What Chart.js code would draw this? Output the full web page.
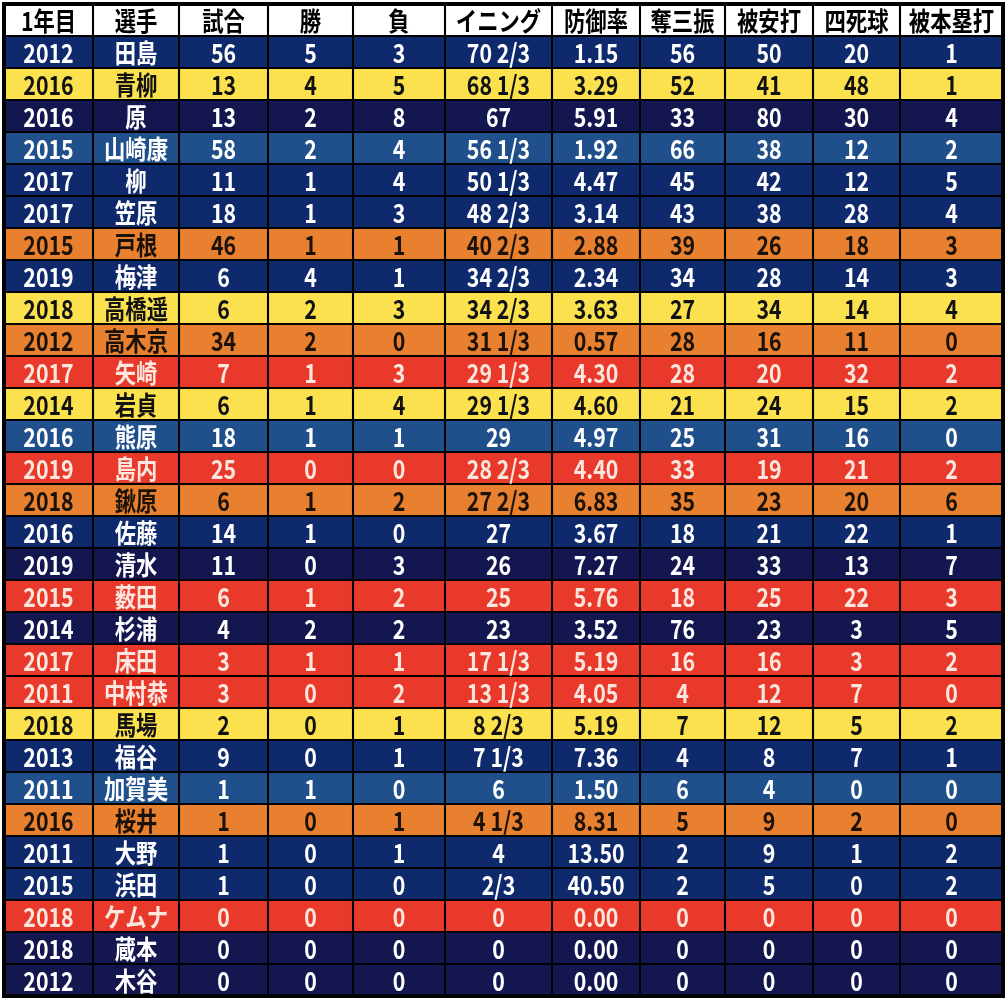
<!DOCTYPE html>
<html>
<head>
<meta charset="utf-8">
<script src="https://cdn.jsdelivr.net/npm/chart.js@4"></script>
<style>
  body { margin: 0; background: #fff; }
  canvas { display: block; }
</style>
</head>
<body>
<canvas id="myChart" width="1008" height="999"></canvas>
<script>
// table data, one array per column
const colLabels = ['1年目', '選手', '試合', '勝', '負', 'イニング', '防御率', '奪三振', '被安打', '四死球', '被本塁打'];
const years = [2012, 2016, 2016, 2015, 2017, 2017, 2015, 2019, 2018, 2012, 2017, 2014, 2016, 2019, 2018, 2016, 2019, 2015, 2014, 2017, 2011, 2018, 2013, 2011, 2016, 2011, 2015, 2018, 2018, 2012];
const players = ['田島', '青柳', '原', '山崎康', '柳', '笠原', '戸根', '梅津', '高橋遥', '高木京', '矢崎', '岩貞', '熊原', '島内', '鍬原', '佐藤', '清水', '薮田', '杉浦', '床田', '中村恭', '馬場', '福谷', '加賀美', '桜井', '大野', '浜田', 'ケムナ', '蔵本', '木谷'];
const games = [56, 13, 13, 58, 11, 18, 46, 6, 6, 34, 7, 6, 18, 25, 6, 14, 11, 6, 4, 3, 3, 2, 9, 1, 1, 1, 1, 0, 0, 0];
const wins = [5, 4, 2, 2, 1, 1, 1, 4, 2, 2, 1, 1, 1, 0, 1, 1, 0, 1, 2, 1, 0, 0, 0, 1, 0, 0, 0, 0, 0, 0];
const losses = [3, 5, 8, 4, 4, 3, 1, 1, 3, 0, 3, 4, 1, 0, 2, 0, 3, 2, 2, 1, 2, 1, 1, 0, 1, 1, 0, 0, 0, 0];
const innings = ['70 2/3', '68 1/3', '67', '56 1/3', '50 1/3', '48 2/3', '40 2/3', '34 2/3', '34 2/3', '31 1/3', '29 1/3', '29 1/3', '29', '28 2/3', '27 2/3', '27', '26', '25', '23', '17 1/3', '13 1/3', '8 2/3', '7 1/3', '6', '4 1/3', '4', '2/3', '0', '0', '0'];
const era = ['1.15', '3.29', '5.91', '1.92', '4.47', '3.14', '2.88', '2.34', '3.63', '0.57', '4.30', '4.60', '4.97', '4.40', '6.83', '3.67', '7.27', '5.76', '3.52', '5.19', '4.05', '5.19', '7.36', '1.50', '8.31', '13.50', '40.50', '0.00', '0.00', '0.00'];
const strikeouts = [56, 52, 33, 66, 45, 43, 39, 34, 27, 28, 28, 21, 25, 33, 35, 18, 24, 18, 76, 16, 4, 7, 4, 6, 5, 2, 2, 0, 0, 0];
const hits = [50, 41, 80, 38, 42, 38, 26, 28, 34, 16, 20, 24, 31, 19, 23, 21, 33, 25, 23, 16, 12, 12, 8, 4, 9, 9, 5, 0, 0, 0];
const walks = [20, 48, 30, 12, 12, 28, 18, 14, 14, 11, 32, 15, 16, 21, 20, 22, 13, 22, 3, 3, 7, 5, 7, 0, 2, 1, 0, 0, 0, 0];
const homers = [1, 1, 4, 2, 5, 4, 3, 3, 4, 0, 2, 2, 0, 2, 6, 1, 7, 3, 5, 2, 0, 2, 1, 0, 0, 2, 2, 0, 0, 0];
// row group (colour class) of each player
const rowGroups = ['N', 'Y', 'D', 'B', 'N', 'N', 'O', 'N', 'Y', 'O', 'R', 'Y', 'B', 'R', 'O', 'N', 'D', 'R', 'D', 'R', 'R', 'Y', 'N', 'B', 'O', 'N', 'N', 'R', 'D', 'D'];

const columns = [years, players, games, wins, losses, innings, era, strikeouts, hits, walks, homers];

// layout / styles
const colWidths = [89, 86, 89, 85, 92, 107, 88, 85, 88, 87, 103];
const fillColors = { H: '#ffffff', N: '#0f2a6c', D: '#141650', B: '#20508c', Y: '#fbe14e', O: '#e8802f', R: '#e8392a' };
const textColors = { H: '#000000', N: '#ffffff', D: '#ffffff', B: '#ffffff', Y: '#111111', O: '#1a1208', R: '#fde6dd' };

const groups = ['H'].concat(rowGroups);
const rowLabels = ['header'].concat(players);

// column edges in x units
const edges = [0];
colWidths.forEach(w => edges.push(edges[edges.length - 1] + w));

const datasets = colLabels.map((label, c) => ({
    label: label,
    data: rowLabels.map(() => [edges[c], edges[c + 1]]),
    backgroundColor: groups.map(g => fillColors[g]),
    borderColor: '#000000',
    borderWidth: 1.4,
    borderSkipped: false,
    grouped: false,
    barPercentage: 1,
    categoryPercentage: 1
}));

// draw the cell texts in the middle of each bar
const cellText = {
    id: 'cellText',
    afterDatasetsDraw(chart) {
        const ctx = chart.ctx;
        ctx.save();
        ctx.font = '600 26px "Noto Sans CJK JP"';
        ctx.textAlign = 'center';
        ctx.textBaseline = 'middle';
        chart.data.datasets.forEach((ds, c) => {
            chart.getDatasetMeta(c).data.forEach((bar, r) => {
                const text = r === 0 ? colLabels[c] : String(columns[c][r - 1]);
                const x = (bar.x + bar.base) / 2;
                ctx.fillStyle = textColors[groups[r]];
                ctx.save();
                ctx.translate(x, bar.y + 1);
                ctx.scale(0.82, 1);
                ctx.fillText(text, 0, 0);
                ctx.restore();
            });
        });
        ctx.restore();
    },
    afterDraw(chart) {
        const a = chart.chartArea;
        const ctx = chart.ctx;
        ctx.save();
        ctx.strokeStyle = '#000';
        ctx.lineWidth = 4;
        ctx.strokeRect(a.left, a.top, a.right - a.left, a.bottom - a.top);
        ctx.restore();
    }
};

new Chart(document.getElementById('myChart'), {
    type: 'bar',
    data: { labels: rowLabels, datasets: datasets },
    options: {
        indexAxis: 'y',
        responsive: false,
        animation: false,
        layout: { padding: { left: 4, right: 5, top: 4, bottom: 3 } },
        scales: {
            x: { type: 'linear', min: 0, max: edges[edges.length - 1], display: false },
            y: { display: false }
        },
        plugins: {
            legend: { display: false },
            tooltip: { enabled: false }
        },
        events: []
    },
    plugins: [cellText]
});
</script>
</body>
</html>
